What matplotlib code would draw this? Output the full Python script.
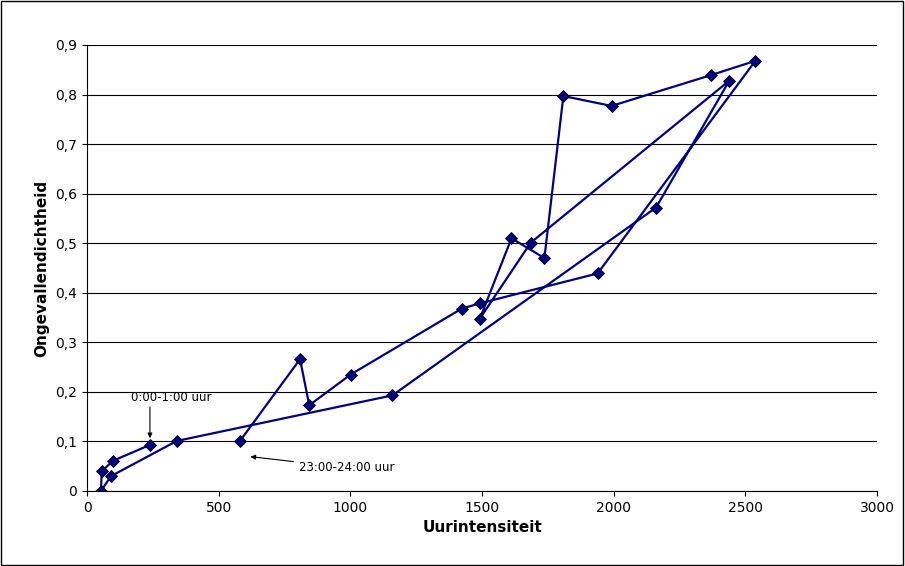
import matplotlib
matplotlib.use('Agg')
import matplotlib.pyplot as plt

# uurintensiteit en ongevallendichtheid per uur (0:00 t/m 23:00)
intensiteit = [239, 99, 56, 53, 91, 341, 1160, 2161, 2439, 1685, 1492, 1612,
               1737, 1809, 1992, 2368, 2538, 1939, 1494, 1423, 1001, 844, 809, 581]
dichtheid = [0.093, 0.061, 0.040, 0.0, 0.030, 0.101, 0.193, 0.572, 0.828, 0.501,
             0.348, 0.510, 0.470, 0.797, 0.777, 0.839, 0.868, 0.439, 0.379, 0.368,
             0.235, 0.173, 0.266, 0.101]

fig = plt.figure(figsize=(9.05, 5.66), dpi=100)
fig.patches.append(plt.Rectangle((0.001, 0.001), 0.997, 0.997, transform=fig.transFigure,
                                 fill=False, edgecolor='black', linewidth=1))
ax = fig.add_axes([87/905, 1 - 491/566, 790/905, 446/566])

ax.plot(intensiteit, dichtheid, color='#000080', linewidth=1.6, marker='D',
        markersize=6, markerfacecolor='#000080', markeredgecolor='black', markeredgewidth=0.6)

ax.set_xlim(0, 3000)
ax.set_ylim(0, 0.9)
ax.set_xticks(range(0, 3001, 500))
ax.set_yticks([i / 10 for i in range(10)])
ax.set_yticklabels(['0'] + [f'0,{i}' for i in range(1, 10)])
ax.yaxis.grid(True, color='black', linewidth=0.8)
ax.set_axisbelow(True)
for s in ['top', 'right']:
    ax.spines[s].set_visible(False)
ax.tick_params(direction='out', labelsize=10)

ax.set_xlabel('Uurintensiteit', fontsize=11, fontweight='bold')
ax.set_ylabel('Ongevallendichtheid', fontsize=11, fontweight='bold')

ax.text(320, 0.175, '0:00-1:00 uur', fontsize=8.5, ha='center', va='bottom')
ax.annotate('', xy=(intensiteit[0], dichtheid[0] + 0.008), xytext=(intensiteit[0], 0.175),
            arrowprops=dict(arrowstyle='-|>', color='black', lw=0.8, mutation_scale=7))
ax.annotate('23:00-24:00 uur', xy=(610, 0.07), xytext=(805, 0.047),
            fontsize=8.5, ha='left', va='center',
            arrowprops=dict(arrowstyle='-|>', color='black', lw=0.8, mutation_scale=7))

fig.savefig('out.png')
